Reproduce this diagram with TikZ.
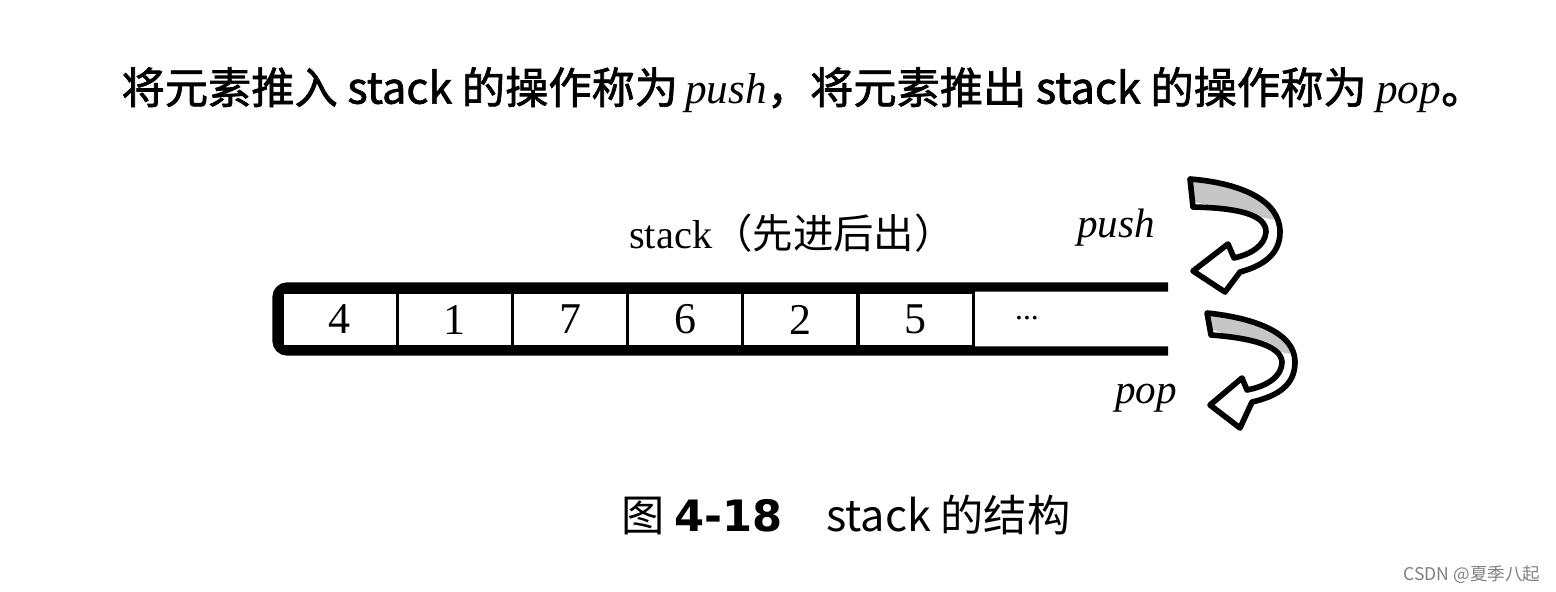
\documentclass[tikz,border=0pt]{standalone}
\usepackage{fontspec}
\setmainfont{Liberation Serif}
\newfontfamily\cjk{Noto Sans CJK SC}
\newfontfamily\cjkmid{Noto Sans CJK SC}[FakeBold=1.6]
\newfontfamily\heavy{DejaVu Sans}
\usepackage{tikz}
\usetikzlibrary{positioning}

\newcommand{\pushoutline}{(11.90,-1.79) .. controls (12.40,-1.83) and (12.80,-2.00) .. (12.80,-2.32)
    .. controls (12.80,-2.55) and (12.62,-2.66) .. (12.40,-2.72) -- (12.25,-2.92) -- (11.93,-2.71)
    -- (12.28,-2.44) -- (12.34,-2.58) .. controls (12.52,-2.54) and (12.65,-2.45) .. (12.66,-2.32)
    .. controls (12.66,-2.15) and (12.40,-2.08) .. (11.93,-2.07) -- cycle}
\newcommand{\popoutline}{(12.07,-3.13) .. controls (12.55,-3.18) and (12.95,-3.33) .. (12.95,-3.62)
    .. controls (12.95,-3.85) and (12.78,-3.96) .. (12.52,-4.02) -- (12.40,-4.28) -- (12.10,-4.05)
    -- (12.42,-3.78) -- (12.47,-3.90) .. controls (12.68,-3.86) and (12.82,-3.76) .. (12.82,-3.62)
    .. controls (12.81,-3.46) and (12.52,-3.38) .. (12.11,-3.35) -- cycle}

\begin{document}
\begin{tikzpicture}[
    tube/.style={
        line width=2.6pt,
        rounded corners=1mm
    },
    cell/.style={
        draw,
        line width=0.9pt,
        inner sep=0pt,
        minimum width=11.52mm,
        minimum height=5.5mm,
        font=\fontsize{12.5}{14}\selectfont
    },
    bendarrow/.style={
        draw,
        line width=1.6pt,
        line join=round
    },
    grayband/.style={
        fill=gray!45
    },
    oplabel/.style={
        font=\fontsize{11.7}{14}\selectfont\itshape,
        inner sep=0pt
    },
    bigtext/.style={
        font=\fontsize{12.3}{14}\selectfont,
        inner sep=0pt
    }
]

\useasboundingbox (0,0) rectangle (15.56,-5.92);


\node[bigtext] (titleline) at (8.03,-0.90)
    {\cjkmid 将元素推入 stack 的操作称为\rmfamily\itshape\,push\upshape\cjkmid，将元素推出 stack 的操作称为 \rmfamily\itshape pop\upshape\cjkmid 。};


\draw[tube] (11.68,-2.87) -- (2.77,-2.87) -- (2.77,-3.51) -- (11.68,-3.51);

\node[cell] (c1) at (3.396,-3.195) {4};
\node[cell] (c2) at (4.548,-3.195) {1};
\node[cell] (c3) at (5.700,-3.195) {7};
\node[cell] (c4) at (6.852,-3.195) {6};
\node[cell] (c5) at (8.004,-3.195) {2};
\node[cell] (c6) at (9.156,-3.195) {5};
\node[font=\fontsize{9}{10}\selectfont, inner sep=0pt] (dots) at (10.27,-3.18) {...};

\node[bigtext,font=\fontsize{11.5}{14}\selectfont] (stacklabel) at (7.92,-2.33)
    {stack{\cjk（先进后出）}};


\fill[white] \pushoutline;
\begin{scope}
\clip \pushoutline;
\fill[grayband] (11.85,-1.70) -- (12.90,-1.70) -- (12.90,-2.20) -- (12.70,-2.19) -- (11.90,-2.01) -- cycle;
\end{scope}
\path[bendarrow] \pushoutline;

\fill[white] \popoutline;
\begin{scope}
\clip \popoutline;
\fill[grayband] (12.00,-3.05) -- (13.00,-3.05) -- (13.00,-3.55) -- (12.85,-3.53) -- (12.10,-3.29) -- cycle;
\end{scope}
\path[bendarrow] \popoutline;

\node[oplabel] (pushlabel) at (11.16,-2.28) {push};
\node[oplabel] (poplabel) at (11.46,-3.98) {pop};


\node[bigtext] (caption) at (8.46,-5.15)
    {\cjk 图 {\heavy\bfseries 4-18}\quad stack 的结构};

\node[font=\fontsize{5}{6}\selectfont\cjk, text=gray, inner sep=0pt] (mark) at (14.72,-5.75) {CSDN @夏季八起};

\end{tikzpicture}
\end{document}
